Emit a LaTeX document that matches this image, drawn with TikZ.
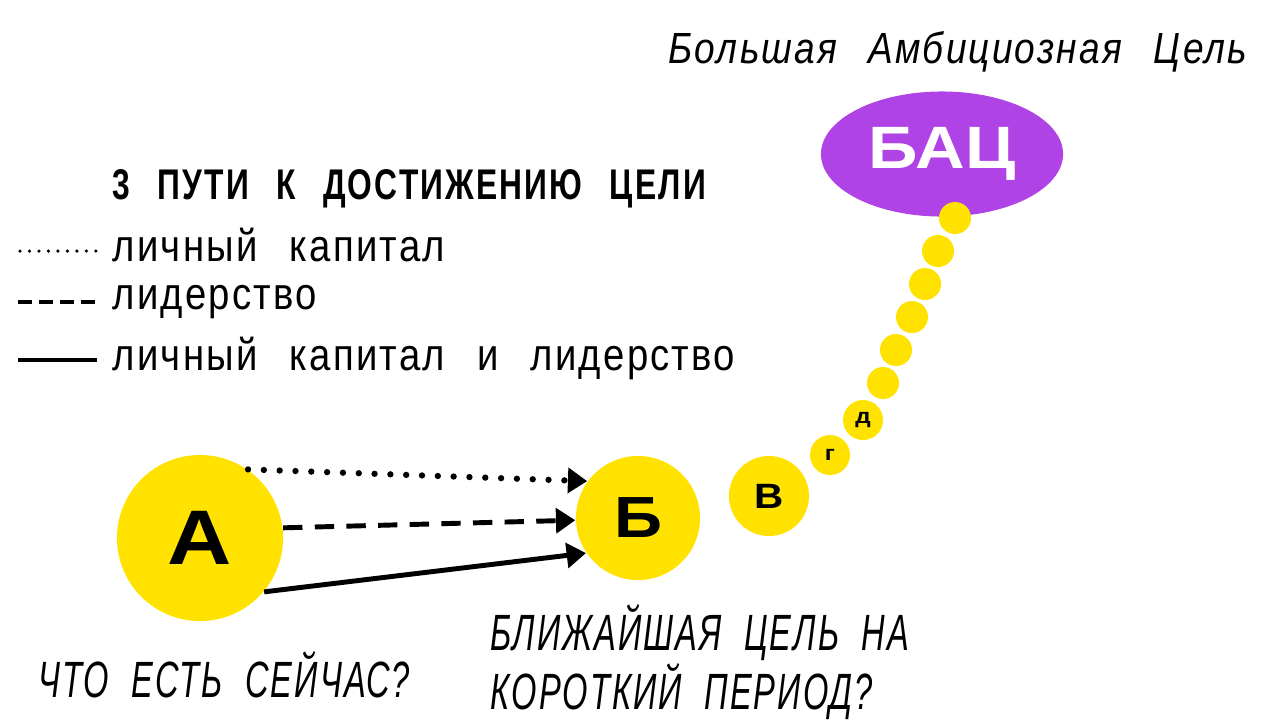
\documentclass[tikz,border=0pt]{standalone}
\usepackage{fontspec}
\setmainfont{Liberation Sans}[FakeStretch=0.85,LetterSpace=5,WordSpace=2.5]
\newfontfamily\letterfont{Liberation Sans}[FakeStretch=1.15]
\newfontfamily\headfont{Liberation Sans}[FakeStretch=0.74,LetterSpace=5,WordSpace=2.5]
\newfontfamily\askfont{Liberation Sans}[FakeStretch=0.64,LetterSpace=4,WordSpace=2]
\usetikzlibrary{arrows.meta,shapes.geometric}

\definecolor{goalyellow}{HTML}{FFE200}
\definecolor{goalpurple}{HTML}{B043E5}

\tikzset{
    stopdot/.style={circle, fill=goalyellow, inner sep=0pt, font=\letterfont\bfseries},
    patharrow/.style={line width=1.4pt, -{Triangle[length=5.5pt,width=7pt]}},
    legendtext/.style={anchor=west, inner sep=0pt, font=\fontsize{12.8}{15}\selectfont},
    asktext/.style={anchor=west, inner sep=0pt, font=\askfont\fontsize{14.5}{15.6}\selectfont\itshape}
}

\begin{document}
\begin{tikzpicture}[x=0.01cm, y=-0.01cm]
    \useasboundingbox (0,0) rectangle (1280,720);

    % Big goal
    \node (title) [anchor=west, inner sep=0pt, font=\fontsize{12.4}{14}\selectfont\itshape] at (668,52) {Большая Амбициозная Цель};
    \node (bac) [ellipse, fill=goalpurple, inner sep=0pt, minimum width=2.42cm, minimum height=1.25cm, text=white, font=\letterfont\bfseries\fontsize{17}{20}\selectfont] at (942,154) {БАЦ};

    % Small steps up to the goal
    \foreach \n/\x/\y in {s1/955/218, s2/938/251, s3/925/284, s4/912/317, s5/896/350, s6/883/383}
    {
        \node [stopdot, minimum size=0.32cm] (\n) at (\x,\y) {};
    }
    \node [stopdot, minimum size=0.4cm, font=\letterfont\bfseries\fontsize{6}{7}\selectfont] (d) at (863,420) {д};
    \node [stopdot, minimum size=0.4cm, font=\letterfont\bfseries\fontsize{6}{7}\selectfont] (g) at (830,455) {г};
    \node [stopdot, minimum size=0.8cm, font=\letterfont\bfseries\fontsize{10}{12}\selectfont] (v) at (769,496) {В};

    % Start and near goal
    \node [stopdot, minimum size=1.66cm, font=\letterfont\bfseries\fontsize{22}{26}\selectfont] (a) at (200,538) {А};
    \node [stopdot, minimum size=1.24cm, font=\letterfont\bfseries\fontsize{16.5}{19}\selectfont] (b) at (638,518) {Б};

    % Three ways
    \draw [patharrow, dash pattern=on 0pt off 4.5pt, line cap=round, line width=1.8pt] (a.55) -- (b.144);
    \draw [patharrow, dash pattern=on 5.5pt off 3.5pt] (a.7) -- (b.182);
    \draw [patharrow] (a.-40) -- (b.214);

    % Legend
    \node (head) [anchor=west, inner sep=0pt, font=\headfont\fontsize{12.2}{14}\selectfont\bfseries] at (112,189) {3 ПУТИ К ДОСТИЖЕНИЮ ЦЕЛИ};
    \node (l1) [legendtext] at (112,245) {личный капитал};
    \node (l2) [legendtext] at (112,302) {лидерство};
    \node (l3) [legendtext] at (112,358) {личный капитал и лидерство};
    \coordinate (p1) at (20,251);
    \coordinate (p2) at (18,302);
    \coordinate (p3) at (18,360);
    \draw [line width=1pt, dash pattern=on 0pt off 2.7pt, line cap=round] (p1) -- ([xshift=-4.5pt]l1.west |- p1);
    \draw [line width=1.1pt, dash pattern=on 4pt off 2pt] (p2) -- ([xshift=-4.2pt]l2.west |- p2);
    \draw [line width=1pt] (p3) -- ([xshift=-4.2pt]l3.west |- p3);

    % Questions
    \node (now) [asktext] at (38,675) {ЧТО ЕСТЬ СЕЙЧАС?};
    \node (near) [asktext, align=left] at (490,662) {БЛИЖАЙШАЯ ЦЕЛЬ НА\\КОРОТКИЙ ПЕРИОД?};
\end{tikzpicture}
\end{document}
